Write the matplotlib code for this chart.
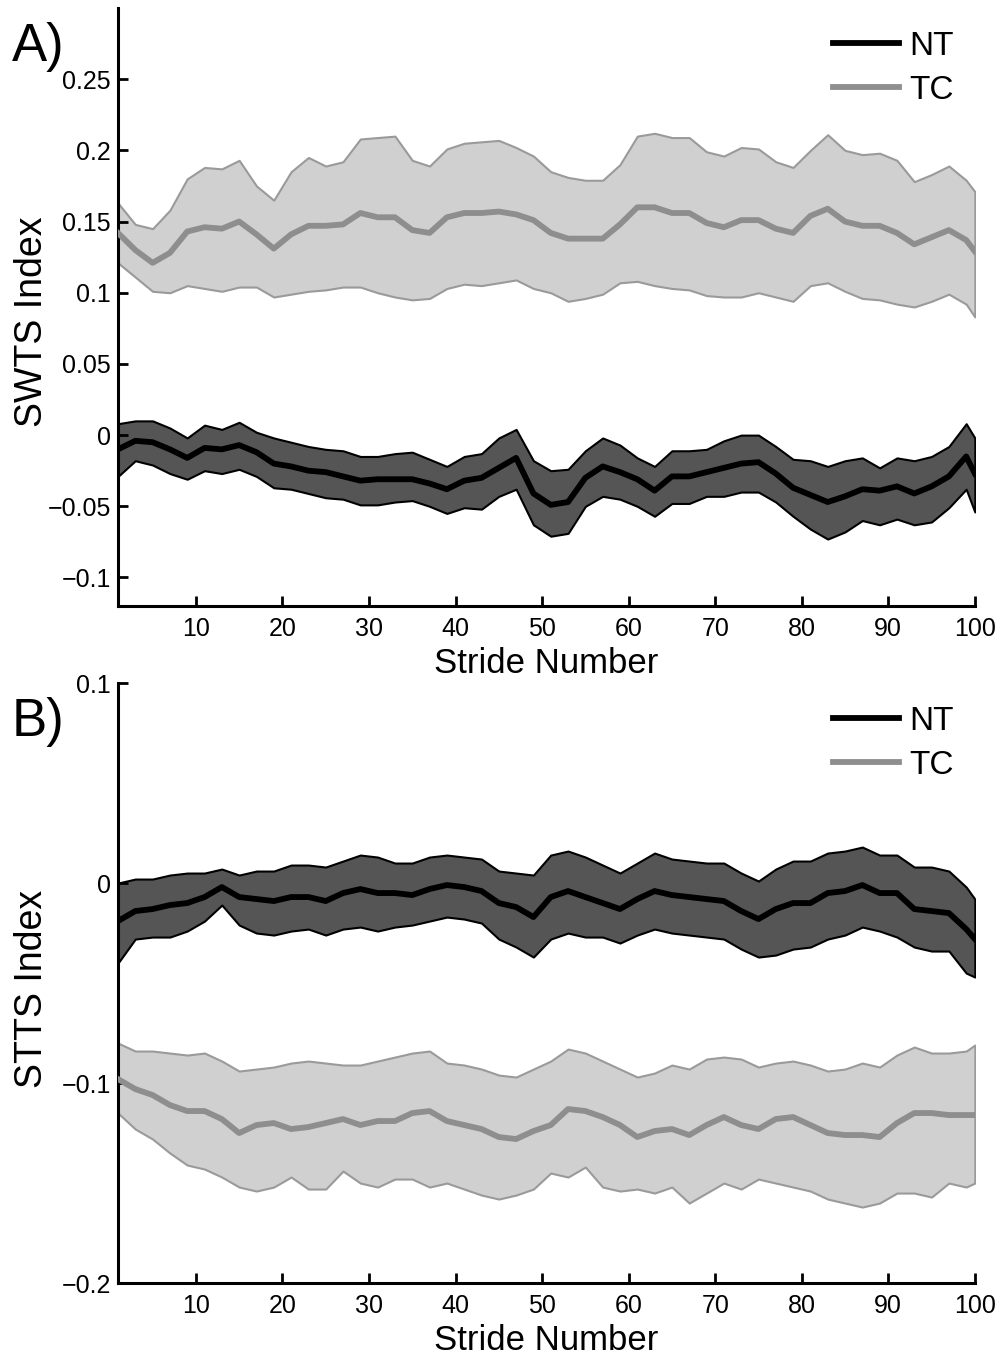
import numpy as np
import matplotlib.pyplot as plt

plt.rcParams['font.family'] = ['Liberation Sans', 'DejaVu Sans']

# stride numbers sampled
stride = [1, 3, 5, 7, 9, 11, 13, 15, 17, 19, 21, 23, 25, 27, 29, 31, 33, 35, 37, 39,
          41, 43, 45, 47, 49, 51, 53, 55, 57, 59, 61, 63, 65, 67, 69, 71, 73, 75, 77, 79,
          81, 83, 85, 87, 89, 91, 93, 95, 97, 99, 100]

# Panel A: SWTS index
swts_nt_mean = [-.010, -.004, -.005, -.010, -.016, -.009, -.010, -.007, -.012, -.020,
                -.022, -.025, -.026, -.029, -.032, -.031, -.031, -.031, -.034, -.038,
                -.032, -.030, -.023, -.016, -.041, -.049, -.047, -.030, -.022, -.026,
                -.031, -.039, -.029, -.029, -.026, -.023, -.020, -.019, -.027, -.037,
                -.042, -.047, -.043, -.038, -.039, -.036, -.041, -.036, -.029, -.015, -.027]
swts_nt_upper = [.008, .010, .010, .005, -.002, .007, .004, .009, .002, -.002,
                 -.005, -.008, -.010, -.011, -.015, -.015, -.013, -.012, -.017, -.022,
                 -.015, -.013, -.002, .004, -.018, -.025, -.024, -.011, -.002, -.007,
                 -.016, -.022, -.011, -.011, -.010, -.004, .000, .000, -.008, -.017,
                 -.018, -.022, -.018, -.016, -.023, -.016, -.018, -.015, -.008, .008, -.002]
swts_nt_lower = [-.029, -.018, -.021, -.027, -.031, -.025, -.027, -.024, -.029, -.037,
                 -.038, -.041, -.044, -.045, -.049, -.049, -.047, -.046, -.050, -.055,
                 -.051, -.052, -.043, -.038, -.063, -.071, -.069, -.050, -.043, -.045,
                 -.050, -.057, -.048, -.048, -.043, -.043, -.040, -.040, -.047, -.057,
                 -.066, -.073, -.068, -.060, -.063, -.059, -.063, -.061, -.051, -.038, -.054]
swts_tc_mean = [.142, .130, .121, .128, .143, .146, .145, .150, .141, .131,
                .141, .147, .147, .148, .156, .153, .153, .144, .142, .153,
                .156, .156, .157, .155, .151, .142, .138, .138, .138, .148,
                .160, .160, .156, .156, .149, .146, .151, .151, .145, .142,
                .154, .159, .150, .147, .147, .142, .134, .139, .144, .137, .129]
swts_tc_upper = [.163, .148, .145, .158, .180, .188, .187, .193, .175, .165,
                 .185, .195, .189, .192, .208, .209, .210, .193, .189, .201,
                 .205, .206, .207, .202, .196, .185, .181, .179, .179, .190,
                 .210, .212, .209, .209, .199, .196, .202, .201, .192, .188,
                 .200, .211, .200, .197, .198, .193, .178, .183, .189, .179, .171]
swts_tc_lower = [.121, .111, .101, .100, .105, .103, .101, .104, .104, .097,
                 .099, .101, .102, .104, .104, .100, .097, .095, .096, .103,
                 .106, .105, .107, .109, .103, .100, .094, .096, .099, .107,
                 .108, .105, .103, .102, .098, .097, .097, .100, .097, .094,
                 .105, .107, .101, .096, .095, .092, .090, .094, .099, .092, .083]

# Panel B: STTS index
stts_nt_mean = [-.019, -.014, -.013, -.011, -.010, -.007, -.002, -.007, -.008, -.009,
                -.007, -.007, -.009, -.005, -.003, -.005, -.005, -.006, -.003, -.001,
                -.002, -.004, -.010, -.012, -.017, -.007, -.004, -.007, -.010, -.013,
                -.008, -.004, -.006, -.007, -.008, -.009, -.014, -.018, -.013, -.010,
                -.010, -.005, -.004, -.001, -.005, -.005, -.013, -.014, -.015, -.023, -.028]
stts_nt_upper = [.000, .002, .002, .004, .005, .005, .007, .004, .006, .006,
                 .009, .009, .008, .011, .014, .013, .010, .010, .013, .014,
                 .013, .012, .006, .005, .004, .014, .016, .013, .009, .005,
                 .010, .015, .012, .011, .010, .010, .005, .001, .007, .011,
                 .011, .015, .016, .018, .014, .014, .008, .008, .006, -.002, -.008]
stts_nt_lower = [-.040, -.028, -.027, -.027, -.024, -.019, -.011, -.021, -.025, -.026,
                 -.024, -.023, -.026, -.023, -.022, -.024, -.022, -.021, -.019, -.017,
                 -.018, -.020, -.028, -.032, -.037, -.028, -.025, -.027, -.027, -.030,
                 -.026, -.023, -.025, -.026, -.027, -.028, -.033, -.037, -.036, -.033,
                 -.032, -.028, -.026, -.022, -.024, -.027, -.032, -.034, -.034, -.045, -.047]
stts_tc_mean = [-.098, -.103, -.106, -.111, -.114, -.114, -.118, -.125, -.121, -.120,
                -.123, -.122, -.120, -.118, -.121, -.119, -.119, -.115, -.114, -.119,
                -.121, -.123, -.127, -.128, -.124, -.121, -.113, -.114, -.117, -.121,
                -.127, -.124, -.123, -.126, -.121, -.117, -.121, -.123, -.118, -.117,
                -.121, -.125, -.126, -.126, -.127, -.120, -.115, -.115, -.116, -.116, -.116]
stts_tc_upper = [-.080, -.084, -.084, -.085, -.086, -.085, -.089, -.094, -.093, -.092,
                 -.090, -.089, -.090, -.091, -.091, -.089, -.087, -.085, -.084, -.090,
                 -.091, -.093, -.096, -.097, -.093, -.089, -.083, -.085, -.089, -.093,
                 -.097, -.095, -.091, -.093, -.088, -.087, -.088, -.092, -.090, -.089,
                 -.091, -.094, -.093, -.090, -.092, -.086, -.082, -.085, -.085, -.084, -.081]
stts_tc_lower = [-.115, -.123, -.128, -.135, -.141, -.143, -.147, -.152, -.154, -.152,
                 -.147, -.153, -.153, -.144, -.150, -.152, -.148, -.148, -.152, -.150,
                 -.153, -.156, -.158, -.156, -.153, -.145, -.147, -.142, -.152, -.154,
                 -.153, -.155, -.152, -.160, -.155, -.150, -.153, -.148, -.150, -.152,
                 -.154, -.158, -.160, -.162, -.160, -.155, -.155, -.157, -.150, -.152, -.150]

x_ticks = [10, 20, 30, 40, 50, 60, 70, 80, 90, 100]

nt_fill, nt_edge, nt_line = '#555555', 'black', 'black'
tc_fill, tc_edge, tc_line = '#d0d0d0', '#9a9a9a', '#8e8e8e'


def draw_panel(ax, nt, tc, ylim, yticks, yticklabels, ylabel, label_y, tag):
    ax.fill_between(stride, tc[1], tc[2], facecolor=tc_fill, edgecolor=tc_edge, lw=1.5, zorder=1)
    ax.fill_between(stride, nt[1], nt[2], facecolor=nt_fill, edgecolor=nt_edge, lw=1.5, zorder=1)
    ax.plot(stride, nt[0], color=nt_line, lw=4.2, label='NT', zorder=3)
    ax.plot(stride, tc[0], color=tc_line, lw=4.2, label='TC', zorder=3)
    ax.set_xlim(1, 100)
    ax.set_ylim(*ylim)
    ax.set_xticks(x_ticks)
    ax.set_yticks(yticks)
    ax.set_yticklabels(yticklabels)
    ax.tick_params(direction='in', length=7, width=2, labelsize=18, pad=5)
    ax.tick_params(axis='x', pad=8)
    for s in ['top', 'right']:
        ax.spines[s].set_visible(False)
    for s in ['left', 'bottom']:
        ax.spines[s].set_linewidth(2.2)
    ax.set_xlabel('Stride Number', fontsize=25, labelpad=4)
    ax.set_ylabel(ylabel, fontsize=27)
    ax.yaxis.set_label_coords(-0.079, label_y)
    leg = ax.legend(loc='upper right', frameon=False, fontsize=24, handlelength=2.0,
                    handletextpad=0.3, labelspacing=0.4, borderaxespad=0.1,
                    bbox_to_anchor=(0.995, 0.99))
    for h in leg.get_lines():
        h.set_linewidth(4.2)
    ax.text(-0.124, 0.935, tag, transform=ax.transAxes, fontsize=38, ha='left', va='center')


fig = plt.figure(figsize=(10.05, 13.55), dpi=100)
ax_a = fig.add_axes([0.1174, 0.5528, 0.8526, 0.4413])
ax_b = fig.add_axes([0.1174, 0.0531, 0.8526, 0.4428])

draw_panel(ax_a, (swts_nt_mean, swts_nt_upper, swts_nt_lower),
           (swts_tc_mean, swts_tc_upper, swts_tc_lower),
           (-0.12, 0.3), [-0.1, -0.05, 0, 0.05, 0.1, 0.15, 0.2, 0.25],
           ['\u22120.1', '\u22120.05', '0', '0.05', '0.1', '0.15', '0.2', '0.25'],
           'SWTS Index', 0.475, 'A)')
draw_panel(ax_b, (stts_nt_mean, stts_nt_upper, stts_nt_lower),
           (stts_tc_mean, stts_tc_upper, stts_tc_lower),
           (-0.2, 0.1), [-0.2, -0.1, 0, 0.1],
           ['\u22120.2', '\u22120.1', '0', '0.1'],
           'STTS Index', 0.49, 'B)')

fig.savefig('out.png', dpi=100)
